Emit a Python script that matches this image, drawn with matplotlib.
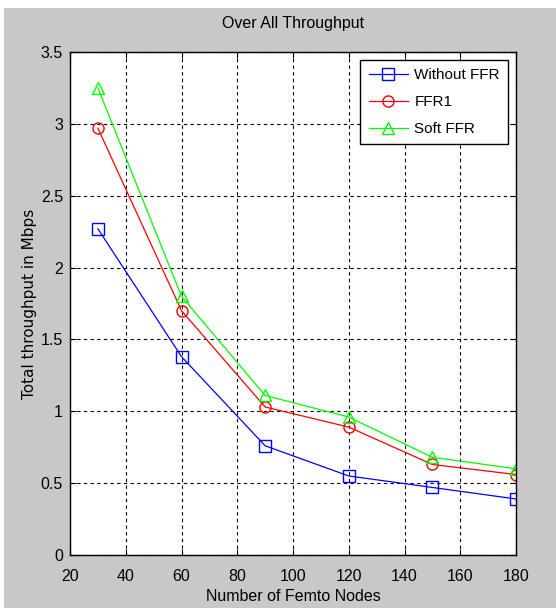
import matplotlib
matplotlib.use("Agg")
import matplotlib.pyplot as plt
from matplotlib import font_manager

nodes = [30, 60, 90, 120, 150, 180]
without_ffr = [2.27, 1.38, 0.76, 0.55, 0.47, 0.39]
ffr1 = [2.97, 1.70, 1.03, 0.89, 0.63, 0.56]
soft_ffr = [3.25, 1.80, 1.11, 0.96, 0.68, 0.60]
xticks = [20, 40, 60, 80, 100, 120, 140, 160, 180]
yticks = [0, 0.5, 1, 1.5, 2, 2.5, 3, 3.5]
ytick_labels = ["0", "0.5", "1", "1.5", "2", "2.5", "3", "3.5"]

names = {f.name for f in font_manager.fontManager.ttflist}
narrow = ["Liberation Sans Narrow", "Liberation Sans", "DejaVu Sans"]
narrow = [n for n in narrow if n in names] or ["DejaVu Sans"]
plt.rcParams["font.family"] = narrow

W, H = 556, 608
fig = plt.figure(figsize=(W/100, H/100), dpi=100, facecolor="white")
bg = fig.add_axes([4/W, 0.0, 1-4/W, 1-8/H])
bg.set_facecolor("#c8c8c8")
bg.set_xticks([]); bg.set_yticks([])
for s in bg.spines.values():
    s.set_visible(False)
bg.set_zorder(-10)

ax = fig.add_axes([70/W, 1-555/H, (516-70)/W, (555-52)/H])
ax.set_facecolor("white")
ax.plot(nodes, without_ffr, color="#0000ff", lw=0.9, marker="s", ms=8,
        mfc="none", mec="#0000ff", mew=1.0, label="Without FFR")
ax.plot(nodes, ffr1, color="#ff0000", lw=0.9, marker="o", ms=8,
        mfc="none", mec="#ff0000", mew=1.0, label="FFR1")
ax.plot(nodes, soft_ffr, color="#00ff00", lw=0.9, marker="^", ms=9,
        mfc="none", mec="#00ff00", mew=1.0, label="Soft FFR")

ax.set_xlim(20, 180)
ax.set_ylim(0, 3.5)
ax.set_xticks(xticks)
ax.set_yticks(yticks)
ax.set_yticklabels(ytick_labels)
ax.tick_params(direction="in", length=4, labelsize=11.5, colors="black",
               top=True, right=True)
ax.tick_params(axis="x", pad=10)
ax.tick_params(axis="y", pad=5)
ax.grid(True, color="black", linestyle=(0, (3, 3)), linewidth=0.8)
for s in ax.spines.values():
    s.set_linewidth(1.0)
    s.set_color("black")

ax.set_title("Over All Throughput", fontsize=11.5, pad=17)
ax.set_xlabel("Number of Femto Nodes", fontsize=11.5, labelpad=4)
ax.set_ylabel("Total throughput in Mbps", fontsize=11, labelpad=3,
              family=["DejaVu Sans"])

leg = ax.legend(loc="upper right", fontsize=11, fancybox=False,
                edgecolor="black", framealpha=1, borderaxespad=0.5,
                handlelength=2.6, handletextpad=0.4, labelspacing=0.85,
                borderpad=0.55)
leg.get_frame().set_linewidth(1.0)

fig.savefig("out.png", dpi=100, facecolor=fig.get_facecolor())
